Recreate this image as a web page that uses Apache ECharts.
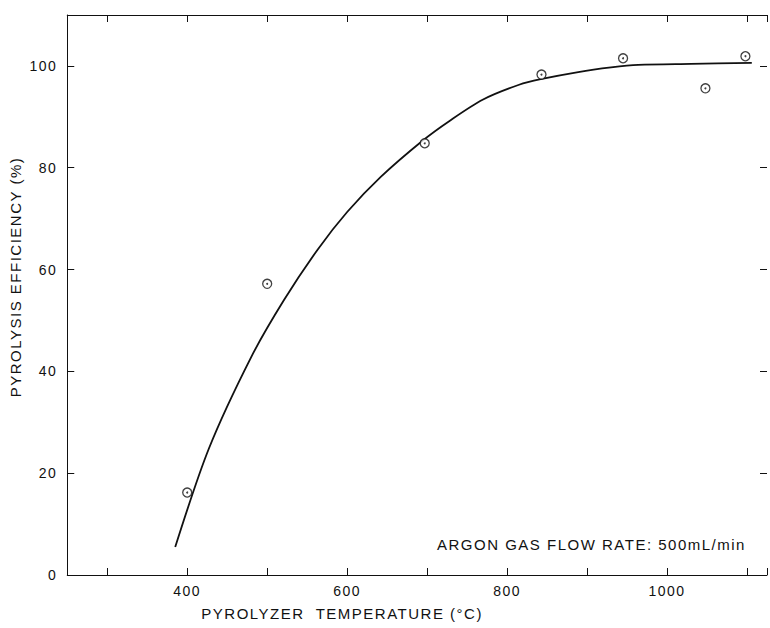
<!DOCTYPE html>
<html>
<head>
<meta charset="utf-8">
<script src="https://cdn.jsdelivr.net/npm/echarts@6/dist/echarts.min.js"></script>
<style>
  html, body { margin: 0; padding: 0; background: #fff; }
  #chart { width: 770px; height: 628px; }
  /* the scanned lettering is widely spaced */
  #chart text { letter-spacing: 1.5px; }
</style>
</head>
<body>
<div id="chart"></div>
<script>
// measured points
const tempPoints = [400, 500, 697, 843, 945, 1048, 1098]
const effPoints = [16.2, 57.2, 84.8, 98.3, 101.5, 95.6, 101.9]

// fitted curve
const curveTemp = [385, 427, 480, 521, 563, 600, 642, 695, 728, 770, 815, 842, 889, 930, 964, 1030, 1106]
const curveEff = [5.5, 24.8, 42.8, 54.0, 63.9, 71.3, 78.2, 85.4, 89.2, 93.4, 96.3, 97.4, 98.8, 99.7, 100.2, 100.4, 100.6]

// tick labels
const xTickLabels = [400, 600, 800, 1000]
const yTickLabels = [0, 20, 40, 60, 80, 100]

const ink = '#111'
const font = 'Liberation Sans'

const chart = echarts.init(document.getElementById('chart'), null, { renderer: 'svg' })

const xBase = {
  type: 'value',
  min: 250,
  max: 1125,
  splitNumber: 9,
  minInterval: 100,
  maxInterval: 100,
  splitLine: { show: false },
  axisLine: { show: true, onZero: false, lineStyle: { color: ink, width: 1 } },
  axisTick: { show: true, inside: true, length: 7, lineStyle: { color: ink, width: 1 } }
}

const yBase = {
  type: 'value',
  min: 0,
  max: 110,
  interval: 20,
  splitLine: { show: false },
  axisLine: { show: true, onZero: false, lineStyle: { color: ink, width: 1 } },
  axisTick: { show: true, inside: true, length: 7, lineStyle: { color: ink, width: 1 } }
}

chart.setOption({
  animation: false,
  backgroundColor: '#fff',
  textStyle: { fontFamily: font, color: ink },
  title: {
    text: 'ARGON GAS FLOW RATE: 500mL/min',
    left: 437,
    top: 537,
    padding: 0,
    textStyle: { fontFamily: font, fontSize: 15, fontWeight: 'normal', color: ink }
  },
  grid: { left: 64, right: 0, top: 15, bottom: 53 },
  xAxis: [
    {
      ...xBase,
      position: 'bottom',
      name: 'PYROLYZER  TEMPERATURE (°C)',
      nameLocation: 'middle',
      nameGap: 31,
      nameTextStyle: { fontFamily: font, fontSize: 15, color: ink, padding: [0, 150, 0, 0] },
      axisLabel: {
        margin: 9,
        fontFamily: font,
        fontSize: 14,
        color: ink,
        formatter: v => (xTickLabels.includes(v) ? String(v) : '')
      }
    },
    {
      ...xBase,
      position: 'top',
      axisLabel: { show: false }
    }
  ],
  yAxis: [
    {
      ...yBase,
      position: 'left',
      name: 'PYROLYSIS EFFICIENCY (%)',
      nameLocation: 'middle',
      nameGap: 38,
      nameTextStyle: { fontFamily: font, fontSize: 15, color: ink, padding: [0, 0, 0, 36] },
      axisLabel: {
        margin: 10,
        fontFamily: font,
        fontSize: 14,
        color: ink,
        formatter: v => (yTickLabels.includes(v) ? String(v) : '')
      }
    },
    {
      ...yBase,
      position: 'right',
      axisLine: { show: false },
      axisLabel: { show: false }
    }
  ],
  series: [
    {
      name: 'fit',
      type: 'line',
      xAxisIndex: 0,
      yAxisIndex: 0,
      data: curveTemp.map((t, i) => [t, curveEff[i]]),
      smooth: 0.3,
      showSymbol: false,
      lineStyle: { color: ink, width: 1.8 },
      z: 2
    },
    {
      name: 'measured',
      type: 'scatter',
      xAxisIndex: 0,
      yAxisIndex: 0,
      data: tempPoints.map((t, i) => [t, effPoints[i]]),
      symbol: 'circle',
      symbolSize: 9,
      itemStyle: { color: '#fff', borderColor: ink, borderWidth: 1.3 },
      z: 3
    },
    {
      name: 'measured-dot',
      type: 'scatter',
      xAxisIndex: 0,
      yAxisIndex: 0,
      data: tempPoints.map((t, i) => [t, effPoints[i]]),
      symbol: 'circle',
      symbolSize: 2,
      itemStyle: { color: ink },
      silent: true,
      z: 4
    }
  ]
})
</script>
</body>
</html>
